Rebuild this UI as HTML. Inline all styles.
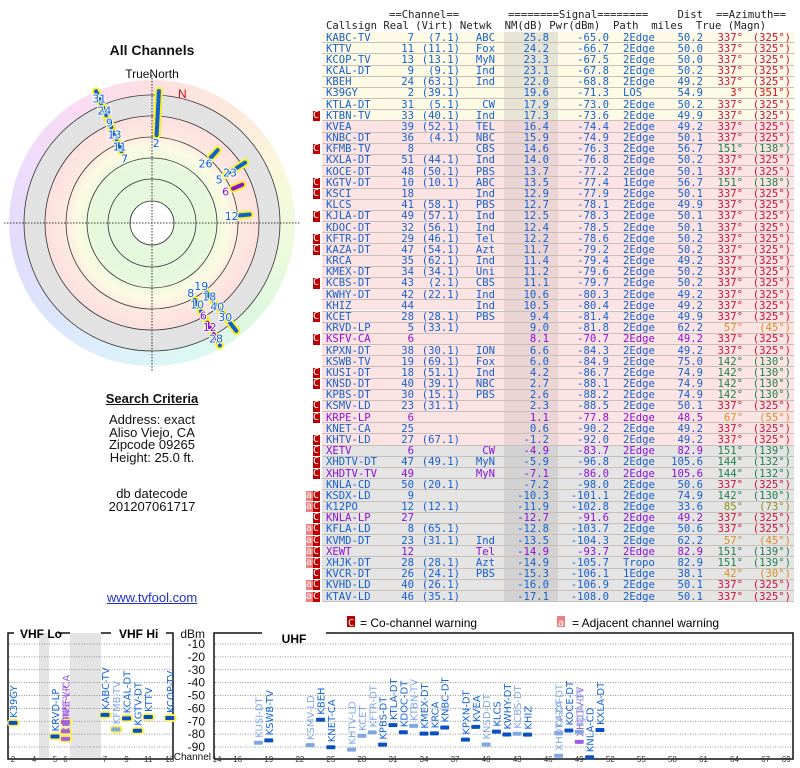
<!DOCTYPE html>
<html><head><meta charset="utf-8">
<style>
body{margin:0;width:800px;height:768px;background:#fff;position:relative;overflow:hidden;font-family:"Liberation Sans",sans-serif}
.abs{position:absolute}
.ctr{position:absolute;left:0;width:304px;text-align:center;color:#111;font-size:13px}
#tbl{position:absolute;left:0;top:0;width:800px;height:610px;font-family:"DejaVu Sans Mono",monospace;font-size:10.6px}
#tbl span{position:absolute;white-space:pre}
</style></head><body>
<div class="ctr" style="top:42px;font-weight:bold;font-size:14px">All Channels</div>
<div class="ctr" style="top:67px;font-size:12px">TrueNorth</div>
<div class="abs" style="left:9px;top:80px;width:286px;height:286px;border-radius:50%;background:conic-gradient(#fde0e0,#fde8dc,#fbf8dc,#eefadc,#def8e0,#dcf8f4,#dcf0fb,#dce4fb,#e2dcfb,#eedcfb,#fadcf4,#fde0e0)"></div>
<svg class="abs" style="left:0;top:0" width="310" height="380" id="polar"></svg>
<div class="ctr" style="top:391px;font-weight:bold;text-decoration:underline">Search Criteria</div>
<div class="ctr" style="top:414px;line-height:12.5px">Address: exact<br>Aliso Viejo, CA<br>Zipcode 09265<br>Height: 25.0 ft.</div>
<div class="ctr" style="top:488px;line-height:12.5px">db datecode<br>201207061717</div>
<div class="ctr" style="top:590px;color:#2030d0;text-decoration:underline">www.tvfool.com</div>
<div id="tbl"></div>
<svg class="abs" style="left:0;top:615px" width="800" height="153" id="spec"></svg>
<script>
// ---- table data ----
const calls=["KABC-TV","KTTV","KCOP-TV","KCAL-DT","KBEH","K39GY","KTLA-DT","KTBN-TV","KVEA","KNBC-DT","KFMB-TV","KXLA-DT","KOCE-DT","KGTV-DT","KSCI","KLCS","KJLA-DT","KDOC-DT","KFTR-DT","KAZA-DT","KRCA","KMEX-DT","KCBS-DT","KWHY-DT","KHIZ","KCET","KRVD-LP","KSFV-CA","KPXN-DT","KSWB-TV","KUSI-DT","KNSD-DT","KPBS-DT","KSMV-LD","KRPE-LP","KNET-CA","KHTV-LD","XETV","XHDTV-DT","XHDTV-TV","KNLA-CD","KSDX-LD","K12PO","KNLA-LP","KFLA-LD","KVMD-DT","XEWT","XHJK-DT","KVCR-DT","KVHD-LD","KTAV-LD"];
const reals=[7,11,13,9,24,2,31,33,39,36,8,51,48,10,18,41,49,32,29,47,35,34,43,42,44,28,5,6,38,19,18,40,30,23,6,25,27,6,47,49,50,9,12,27,8,23,12,28,26,40,46];
const virts=["7.1","11.1","13.1","9.1","63.1","39.1","5.1","40.1","52.1","4.1","","44.1","50.1","10.1","","58.1","57.1","56.1","46.1","54.1","62.1","34.1","2.1","22.1","","28.1","33.1","","30.1","69.1","51.1","39.1","15.1","31.1","","","67.1","","49.1","","20.1","","12.1","","65.1","31.1","","28.1","24.1","26.1","35.1"];
const netwks=["ABC","Fox","MyN","Ind","Ind","","CW","Ind","TEL","NBC","CBS","Ind","PBS","ABC","Ind","PBS","Ind","Ind","Tel","Azt","Ind","Uni","CBS","Ind","Ind","PBS","","","ION","Fox","Ind","NBC","PBS","","","","","CW","MyN","MyN","","","","","","Ind","Tel","Azt","PBS","",""];
const nms=[25.8,24.2,23.3,23.1,22.0,19.6,17.9,17.3,16.4,15.9,14.6,14.0,13.7,13.5,12.9,12.7,12.5,12.4,12.2,11.7,11.4,11.2,11.1,10.6,10.5,9.4,9.0,8.1,6.6,6.0,4.2,2.7,2.6,2.3,1.1,0.6,-1.2,-4.9,-5.9,-7.1,-7.2,-10.3,-11.9,-12.7,-12.8,-13.5,-14.9,-14.9,-15.3,-16.0,-17.1];
const pwrs=[-65.0,-66.7,-67.5,-67.8,-68.8,-71.3,-73.0,-73.6,-74.4,-74.9,-76.3,-76.8,-77.2,-77.4,-77.9,-78.1,-78.3,-78.5,-78.6,-79.2,-79.4,-79.6,-79.7,-80.3,-80.4,-81.4,-81.8,-70.7,-84.3,-84.9,-86.7,-88.1,-88.2,-88.5,-77.8,-90.2,-92.0,-83.7,-96.8,-86.0,-98.0,-101.1,-102.8,-91.6,-103.7,-104.3,-93.7,-105.7,-106.1,-106.9,-108.0];
const paths=["2Edge","2Edge","2Edge","2Edge","2Edge","LOS","2Edge","2Edge","2Edge","2Edge","2Edge","2Edge","2Edge","1Edge","2Edge","2Edge","2Edge","2Edge","2Edge","2Edge","2Edge","2Edge","2Edge","2Edge","2Edge","2Edge","2Edge","2Edge","2Edge","2Edge","2Edge","2Edge","2Edge","2Edge","2Edge","2Edge","2Edge","2Edge","2Edge","2Edge","2Edge","2Edge","2Edge","2Edge","2Edge","2Edge","2Edge","Tropo","1Edge","2Edge","2Edge"];
const dists=[50.2,50.0,50.0,50.2,49.2,54.9,50.2,49.9,49.2,50.1,56.7,50.2,50.1,56.7,50.1,49.9,50.1,50.1,50.2,50.2,49.2,50.2,50.2,49.2,49.2,49.9,62.2,49.2,49.2,75.0,74.9,74.9,74.9,50.1,48.5,49.2,49.2,82.9,105.6,105.6,50.6,74.9,33.6,49.2,50.6,62.2,82.9,82.9,38.1,50.1,50.1];
const azTrue=[337,337,337,337,337,3,337,337,337,337,151,337,337,151,337,337,337,337,337,337,337,337,337,337,337,337,57,337,337,142,142,142,142,337,67,337,337,151,144,144,337,142,85,337,337,57,151,151,42,337,337];
const azMag=[325,325,325,325,325,351,325,325,325,325,138,325,325,138,325,325,325,325,325,325,325,325,325,325,325,325,45,325,325,130,130,130,130,325,55,325,325,139,132,132,325,130,73,325,325,45,139,139,30,325,325];
const purpleRows=["KSFV-CA","KRPE-LP","XETV","XHDTV-TV","KNLA-LP","XEWT"];
const warnC=["KTBN-TV","KFMB-TV","KGTV-DT","KSCI","KJLA-DT","KFTR-DT","KAZA-DT","KCBS-DT","KCET","KSFV-CA","KUSI-DT","KNSD-DT","KSMV-LD","KRPE-LP","KHTV-LD","XETV","XHDTV-DT","XHDTV-TV","KSDX-LD","K12PO","KNLA-LP","KFLA-LD","KVMD-DT","XEWT","XHJK-DT","KVCR-DT","KVHD-LD","KTAV-LD"];
const warnA=["KSDX-LD","K12PO","KFLA-LD","KVMD-DT","XEWT","XHJK-DT","KVHD-LD","KTAV-LD"];

const tbl=document.getElementById('tbl');
function sp(txt,x,y,color,right){const s=document.createElement('span');s.textContent=txt;s.style.top=y+'px';if(right){s.style.right=(800-x)+'px'}else s.style.left=x+'px';s.style.color=color;tbl.appendChild(s);return s;}
function box(x,y,w,h,bg){const d=document.createElement('div');d.style.cssText=`position:absolute;left:${x}px;top:${y}px;width:${w}px;height:${h}px;background:${bg}`;tbl.appendChild(d);return d;}
let h;
h=sp('==Channel==',389,9,'#222');
h=sp('========Signal========',508,9,'#222');
h=sp('Dist',703,9,'#222',true);
h=sp('==Azimuth==',716,9,'#222');
h=sp('Callsign Real (Virt) Netwk  NM(dB) Pwr(dBm)  Path  miles  True (Magn)',326,20,'#222');
box(326,32,466,1,'#333');
const ROW=11.18, TOP=32;
function azColor(a){if(a===337)return'#d0103a';if(a===3)return'#e01010';if(a>=140&&a<=152)return'#208050';if(a===85)return'#889020';return'#d89020';}
calls.forEach((c,i)=>{
  const y=TOP+i*ROW;
  const bg=i<8?'#fdfbe6':(i<37?'#fde4e4':'#e4e4e4');
  const nmbg=i<8?'#e6e4d4':(i<37?'#ead4d4':'#d2d2d2');
  const row=box(322,y,472,ROW-1,bg);
  
  
  box(504,y,54,ROW,nmbg);
  box(322,y+ROW-1,472,1,'#c8c0b8');
  const ty=y-0.5;
  const col=purpleRows.includes(c)?'#8a10d8':'#1560d0';
  const ac=azColor(azTrue[i]);
  if(warnC.includes(c)){const w=box(313,y+0.5,7,ROW-1,'#c00000');w.style.color='#fff';w.style.fontSize='10px';w.style.lineHeight='10px';w.textContent='C';}
  if(warnA.includes(c)){const w=box(306,y+0.5,7,ROW-1,'#f08080');w.style.color='#fff';w.style.fontSize='10px';w.style.lineHeight='10px';w.textContent='a';}
  sp(c,326,ty,col);
  sp(String(reals[i]),414,ty,col,true);
  if(virts[i])sp('('+virts[i]+')',460,ty,col,true);
  sp(netwks[i],495,ty,col,true);
  sp(nms[i].toFixed(1),549,ty,col,true);
  sp(pwrs[i].toFixed(1),609,ty,col,true);
  sp(paths[i],623,ty,col);
  sp(dists[i].toFixed(1),703,ty,col,true);
  sp(azTrue[i]+'°',743,ty,ac,true);
  sp('('+azMag[i]+'°)',791,ty,ac,true);
});

// ---- polar chart ----
const NS='http://www.w3.org/2000/svg';
const P=document.getElementById('polar');
const cx=152,cy=223;
function el(tag,attrs,parent){const e=document.createElementNS(NS,tag);for(const k in attrs)e.setAttribute(k,attrs[k]);(parent||P).appendChild(e);return e;}
let e;
el('circle',{cx,cy,r:128,fill:'#e2e2e2'});
const grad=el('radialGradient',{id:'pg',cx:0.5,cy:0.5,r:0.5},el('defs',{}));
[['0','#e4f8e0'],['0.55','#e6f8dc'],['0.7','#fbfbe2'],['0.85','#fde6e0'],['1','#fde0e0']].forEach(s=>el('stop',{offset:s[0],'stop-color':s[1]},grad));
el('circle',{cx,cy,r:107,fill:'url(#pg)'});
[128,107,86,65,44].forEach(r=>{el('circle',{cx,cy,r,fill:'none',stroke:'#333','stroke-width':0.8});});
el('circle',{cx,cy,r:22,fill:'#fff',stroke:'#333','stroke-width':0.8});
el('line',{x1:cx-148,y1:cy,x2:cx+148,y2:cy,stroke:'#000','stroke-dasharray':'1.5,1.5','stroke-width':0.8});
el('line',{x1:cx,y1:cy-148,x2:cx,y2:cy+148,stroke:'#000','stroke-dasharray':'1.5,1.5','stroke-width':0.8});
e=el('text',{x:178,y:98,fill:'#d01010','font-size':12,'font-family':'Liberation Sans'});e.textContent='N';
// stations shown on the polar plot (table indices)
const polarIdx=[0,1,2,3,4,6,5,10,13,37,46,47,26,45,34,42,29,30,31,32,48];
const groupCount={};
polarIdx.forEach(i=>{
  const az=azTrue[i];
  const k=groupCount[az]||0; groupCount[az]=k+1;
  const a=(az-90)*Math.PI/180;
  const r=Math.min(137,(az===337?72:82)+k*13);
  const col=purpleRows.includes(calls[i])?'#8a10d8':'#1060d0';
  const len=calls[i]==='K39GY'?44:10;
  const x1=cx+Math.cos(a)*(r+6),y1=cy+Math.sin(a)*(r+6),x2=cx+Math.cos(a)*Math.min(r+6+len,140),y2=cy+Math.sin(a)*Math.min(r+6+len,140);
  const g=el('line',{x1,y1,x2,y2,stroke:'#f8f020','stroke-width':8,'stroke-linecap':'round'});
  
  
  const b=el('line',{x1,y1,x2,y2,stroke:col,'stroke-width':4,'stroke-linecap':'round'});
  
  
  const t=el('text',{x:cx+Math.cos(a)*(r-2),y:cy+Math.sin(a)*(r-2)+4,fill:col,'font-size':11,'font-family':'DejaVu Sans','text-anchor':'middle',stroke:'#fff','stroke-width':2,'paint-order':'stroke'});
  t.textContent=reals[i];
  
  
});

// ---- spectrum chart ----
const specCalls=["K39GY","KRVD-LP","KSFV-CA","KRPE-LP","XETV","KABC-TV","KFMB-TV","KCAL-DT","KGTV-DT","KTTV","KCOP-TV","KUSI-DT","KSWB-TV","KSMV-LD","KBEH","KNET-CA","KHTV-LD","KCET","KFTR-DT","KPBS-DT","KTLA-DT","KDOC-DT","KTBN-TV","KMEX-DT","KRCA","KNBC-DT","KPXN-DT","KVEA","KNSD-DT","KLCS","KWHY-DT","KCBS-DT","KHIZ","XHDTV-DT","KAZA-DT","KOCE-DT","XHDTV-TV","KJLA-DT","KNLA-CD","KXLA-DT"];
const specCh=[2,5,6,6,6,7,8,9,10,11,13,18,19,23,24,25,27,28,29,30,31,32,33,34,35,36,38,39,40,41,42,43,44,47,47,48,49,49,50,51];
const specPwr=[-71.3,-81.8,-70.7,-77.8,-83.7,-65.0,-76.3,-67.8,-77.4,-66.7,-67.5,-86.7,-84.9,-88.5,-68.8,-90.2,-92.0,-81.4,-78.6,-88.2,-73.0,-78.5,-73.6,-79.6,-79.4,-74.9,-84.3,-74.4,-88.1,-78.1,-80.3,-79.7,-80.4,-96.8,-79.2,-77.2,-86.0,-78.3,-98.0,-76.8];
const specTone=["d","d","p","p","p","d","l","d","d","d","d","l","d","l","d","d","l","l","l","d","d","d","l","d","d","d","d","d","l","d","d","l","d","l","l","d","p","l","d","d"];
const dbTicks=[-10,-20,-30,-40,-50,-60,-70,-80,-90];
const vhfTicks=[2,4,5,6,7,9,11,13];
const uhfTicks=[14,16,19,22,25,28,31,34,37,40,43,46,49,52,55,58,61,64,67,69];
const S=document.getElementById('spec');
function se(tag,attrs){const e=document.createElementNS(NS,tag);for(const k in attrs)e.setAttribute(k,attrs[k]);S.appendChild(e);return e;}
const OY=615;
function yOf(db){return 644-OY+(-10-db)/80*103;}
function xOf(ch){if(ch<=4)return 13+(ch-2)*10.5;if(ch<=6)return 55+(ch-5)*10.5;if(ch<=13)return 105+(ch-7)*10.8;return 424+(ch-34)*10.35;}
se('rect',{x:39,y:18,width:10,height:126,fill:'#e4e4e4'});
se('rect',{x:70,y:18,width:31,height:126,fill:'#e4e4e4'});
dbTicks.forEach(d=>{
  [[9,172],[215,792]].forEach(p=>se('line',{x1:p[0],x2:p[1],y1:yOf(d),y2:yOf(d),stroke:'#777','stroke-dasharray':'1,1.5','stroke-width':0.8}));
  const t=se('text',{x:205,y:yOf(d)+4,'font-size':12,'text-anchor':'end','font-family':'Liberation Sans',fill:'#111'});t.textContent=d;
  
  
});
e=se('text',{x:205,y:23,'font-size':12,'text-anchor':'end','font-family':'Liberation Sans',fill:'#111'});e.textContent='dBm';

e=se('text',{x:211,y:145,'font-size':10,'text-anchor':'end','font-family':'Liberation Sans',fill:'#111'});e.textContent='Channel';

se('path',{d:'M8,23 V18 H14 M58,18 H70 M101,18 H111 M166,18 H173 V144 H8 V18',fill:'none',stroke:'#111','stroke-width':1.5});
se('path',{d:'M214,144 V18 H262 M326,18 H793 V144 H214',fill:'none',stroke:'#111','stroke-width':1.5});
e=se('text',{x:20,y:23,'font-size':12,'font-weight':'bold','font-family':'Liberation Sans'});e.textContent='VHF Lo';
e=se('text',{x:119,y:23,'font-size':12,'font-weight':'bold','font-family':'Liberation Sans'});e.textContent='VHF Hi';
e=se('text',{x:294,y:28,'font-size':12,'font-weight':'bold','font-family':'Liberation Sans','text-anchor':'middle'});e.textContent='UHF';
se('rect',{x:347,y:1,width:8,height:11,fill:'#c00000'});
e=se('text',{x:348,y:11,'font-size':10,fill:'#fff','font-family':'DejaVu Sans Mono'});e.textContent='C';
e=se('text',{x:360,y:12,'font-size':12,'font-family':'Liberation Sans'});e.textContent='= Co-channel warning';

se('rect',{x:557,y:1,width:8,height:11,fill:'#f08080'});
e=se('text',{x:558,y:11,'font-size':10,fill:'#fff','font-family':'DejaVu Sans Mono'});e.textContent='a';
e=se('text',{x:572,y:12,'font-size':12,'font-family':'Liberation Sans'});e.textContent='= Adjacent channel warning';

vhfTicks.concat(uhfTicks).forEach(c=>{
  const t=se('text',{x:xOf(c),y:147,'font-size':8,'text-anchor':'middle','font-family':'Liberation Sans',fill:'#333'});t.textContent=c;
  
  
});
specCalls.forEach((c,i)=>{
  const x=xOf(specCh[i]),y=yOf(specPwr[i]);
  const col=specTone[i]==='d'?'#0a50c0':(specTone[i]==='l'?'#80a8e0':'#a060e0');
  const tcol=specTone[i]==='d'?'#1565d8':(specTone[i]==='l'?'#80a8e8':'#a060e0');
  if(specCh[i]<=13){const g=se('rect',{x:x-6,y:y-4,width:13,height:8,rx:4,fill:'#fbf060'});}
  const m=se('rect',{x:x-4.5,y:y-2,width:9,height:4,rx:1,fill:col});
  
  
  const t=se('text',{x:0,y:0,'font-size':10,fill:tcol,'font-family':'DejaVu Sans',transform:`translate(${x+4},${y-5}) rotate(-90)`});
  t.textContent=c;
  
  
});
</script>
</body></html>
